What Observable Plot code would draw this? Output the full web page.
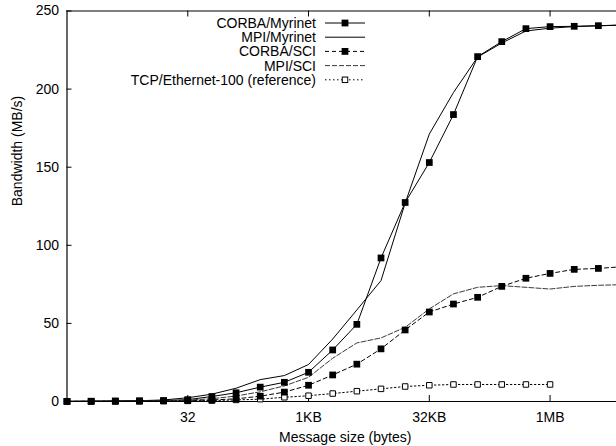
<!DOCTYPE html>
<html><head><meta charset="utf-8">
<script src="https://cdn.jsdelivr.net/npm/d3@7"></script>
<script src="https://cdn.jsdelivr.net/npm/@observablehq/plot@0.6"></script>
<style>
body{margin:0;background:#fff}
svg{font-family:"Liberation Sans",Arial,sans-serif}
</style>
</head><body><div id="chart"></div>
<script>
// Message sizes in bytes (powers of two)
const sizes = [1,2,4,8,16,32,64,128,256,512,1024,2048,4096,8192,16384,32768,65536,131072,262144,524288,1048576,2097152,4194304,8388608];
// Bandwidth (MB/s)
const corbaMyrinet = [0.1,0.2,0.3,0.4,0.6,1.2,3.2,5.6,9.2,12.3,18.7,33,49.4,91.9,127.4,153,183.7,220.8,230.4,238.7,240,240.2,240.6,241];
const mpiMyrinet   = [0.1,0.2,0.3,0.5,1.0,2.4,4.7,8.5,14,16.6,23.7,40,58.6,77.4,127,171.2,197.8,220.5,229.5,237.2,239,240,240.5,241];
const corbaSci     = [0.1,0.1,0.2,0.3,0.4,0.6,1.0,1.7,3.4,6.0,10.4,17,23.9,33.7,45.8,57.3,62.4,66.7,73.7,78.9,82,84.6,85.2,86.3];
const mpiSci       = [0.1,0.1,0.2,0.3,0.5,0.9,1.8,3.5,6.2,10,15.5,27.7,37.5,40.7,47.5,59.3,68.9,73.1,74.2,73.1,72,73.7,74.4,74.8];
const tcpEthernet  = [0.05,0.1,0.15,0.2,0.3,0.4,0.6,1.0,1.5,2.7,3.7,5.1,6.6,8.1,9.6,10.4,10.9,10.9,10.9,10.9,10.9];

const seriesNames = ["CORBA/Myrinet","MPI/Myrinet","CORBA/SCI","MPI/SCI","TCP/Ethernet-100 (reference)"];
const seriesValues = [corbaMyrinet, mpiMyrinet, corbaSci, mpiSci, tcpEthernet];

const xTickValues = [32, 1024, 32768, 1048576];
const xTickLabels = ["32","1KB","32KB","1MB"];
const yTickValues = [0,50,100,150,200,250];
const xLabel = "Message size (bytes)";
const yLabel = "Bandwidth (MB/s)";

// styles per series
const styles = [
  {stroke:"#000", dash:null, marker:"filled"},
  {stroke:"#000", dash:null, marker:null},
  {stroke:"#000", dash:"4,3", marker:"filled"},
  {stroke:"#3a3a3a", dash:"5,2", marker:null},
  {stroke:"#000", dash:"1.5,2.5", marker:"open"}
];

const tables = seriesValues.map((vals, i) => vals.map((v, j) => ({series: seriesNames[i], size: sizes[j], bw: v})));

const lineMarks = tables.map((t, i) => Plot.line(t, {
  x: "size", y: "bw", stroke: styles[i].stroke, strokeWidth: 1,
  strokeDasharray: styles[i].dash, clip: true
}));
const openDots = tables.map((t, i) => styles[i].marker === "open"
  ? Plot.dot(t, {x: "size", y: "bw", symbol: "square", r: 3.1, fill: "#fff", stroke: "#000", strokeWidth: 1})
  : null).filter(Boolean);
const filledDots = tables.map((t, i) => styles[i].marker === "filled"
  ? Plot.dot(t, {x: "size", y: "bw", symbol: "square", r: 3.8, fill: "#000", stroke: "none"})
  : null).filter(Boolean);

const chart = Plot.plot({
  width: 616, height: 446,
  marginLeft: 66.5, marginRight: 0, marginTop: 10.5, marginBottom: 45,
  style: {fontFamily: "Liberation Sans, Arial, sans-serif", fontSize: "14px", background: "#fff", color: "#000", overflow: "hidden"},
  x: {type: "log", base: 2, domain: [1, Math.pow(2, 22.75)]},
  y: {domain: [0, 250]},
  marks: [
    // frame (bottom, top, left)
    Plot.ruleY([0], {stroke: "#000", strokeWidth: 1.2}),
    Plot.ruleY([250], {stroke: "#000", strokeWidth: 1.2}),
    Plot.ruleX([1], {stroke: "#000", strokeWidth: 1.2}),
    // inward ticks (bottom & mirrored top)
    Plot.ruleX(xTickValues, {x: d => d, y1: 0, y2: 0, insetTop: -6, stroke: "#000"}),
    Plot.ruleX(xTickValues, {x: d => d, y1: 250, y2: 250, insetBottom: -6, stroke: "#000"}),
    // inward y ticks
    Plot.ruleY(yTickValues, {y: d => d, x1: 1, x2: 1, insetRight: -5, stroke: "#000"}),
    // tick labels
    Plot.axisX({ticks: xTickValues, tickSize: 0, tickPadding: 10.5, tickFormat: d => xTickLabels[xTickValues.indexOf(d)], label: null, fontSize: 14}),
    Plot.axisY({ticks: yTickValues, tickSize: 0, tickPadding: 8, label: null, fontSize: 14}),
    ...lineMarks,
    ...openDots,
    ...filledDots,
    Plot.text([xLabel], {text: d => d, frameAnchor: "bottom", dy: 40, dx: 3.5, lineAnchor: "bottom", fontSize: 14}),
    Plot.text([yLabel], {text: d => d, frameAnchor: "left", rotate: -90, dx: -45, lineAnchor: "bottom", fontSize: 14})
  ]
});

// Legend (gnuplot style, top right inside the plot)
const svg = d3.select(chart);
const lg = svg.append("g").attr("font-size", 14).attr("font-family", "Liberation Sans, Arial, sans-serif");
seriesNames.forEach((name, i) => {
  const y = 23 + i * 14.2;
  lg.append("text").attr("x", 316).attr("y", y).attr("dy", "0.35em").attr("text-anchor", "end").attr("fill", "#000").text(name);
  lg.append("line").attr("x1", 325).attr("x2", 365).attr("y1", y).attr("y2", y)
    .attr("stroke", styles[i].stroke).attr("stroke-width", 1)
    .attr("stroke-dasharray", styles[i].dash);
  if (styles[i].marker === "filled") {
    lg.append("rect").attr("x", 345 - 3.4).attr("y", y - 3.4).attr("width", 6.8).attr("height", 6.8).attr("fill", "#000");
  } else if (styles[i].marker === "open") {
    lg.append("rect").attr("x", 345 - 2.75).attr("y", y - 2.75).attr("width", 5.5).attr("height", 5.5).attr("fill", "#fff").attr("stroke", "#000");
  }
});

document.getElementById("chart").appendChild(chart);
</script>
</body></html>
